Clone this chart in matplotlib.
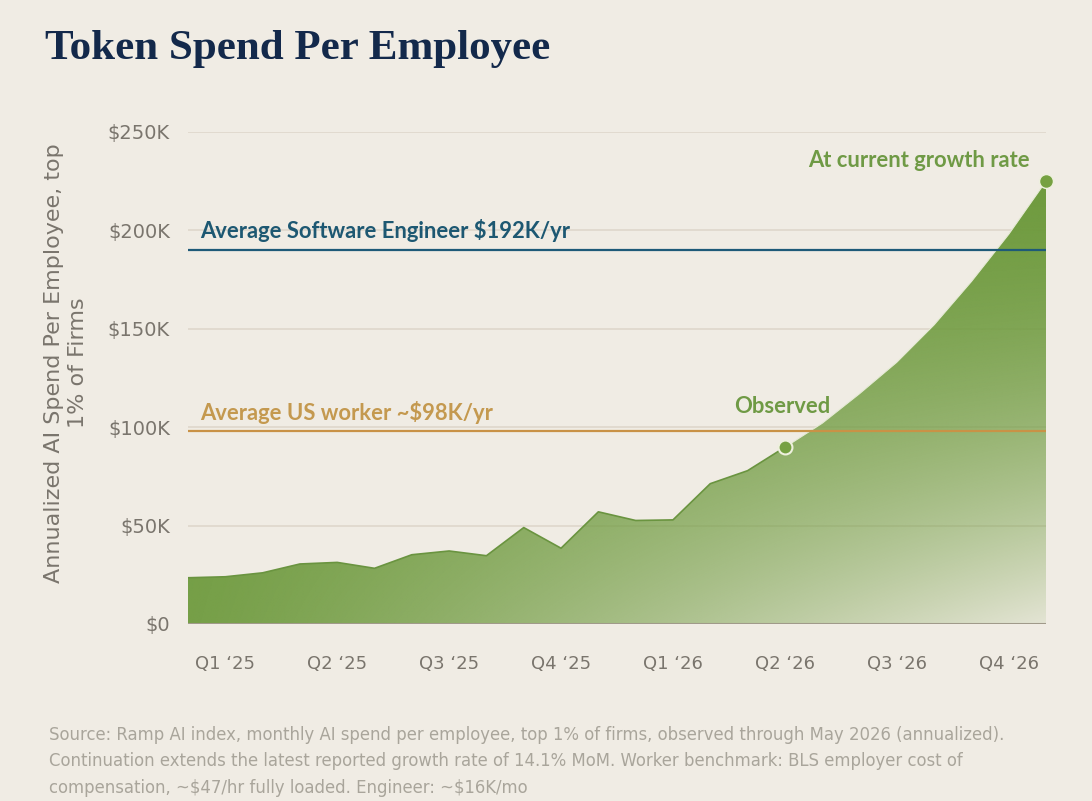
import numpy as np
import matplotlib.pyplot as plt
from matplotlib.patches import Polygon
from matplotlib.colors import to_rgb

# monthly index, 0 = Jan 2025
obs_months = list(range(0, 17))
obs_values = [23.5, 24.0, 26.0, 30.5, 31.3, 28.3, 35.2, 37.1, 34.7, 49.0,
              38.5, 57.0, 52.6, 52.9, 71.3, 77.9, 89.8]          # $K, annualized
proj_months = list(range(16, 24))
proj_values = [89.8, 102.0, 117.0, 133.0, 152.0, 174.0, 198.0, 225.0]

quarter_ticks = [1, 4, 7, 10, 13, 16, 19, 22]
quarter_labels = ["Q1 \u201825", "Q2 \u201825", "Q3 \u201825", "Q4 \u201825",
                  "Q1 \u201826", "Q2 \u201826", "Q3 \u201826", "Q4 \u201826"]
y_ticks = [0, 50, 100, 150, 200, 250]
y_labels = ["$0", "$50K", "$100K", "$150K", "$200K", "$250K"]

engineer_level = 190
worker_level = 98

BG = "#F0ECE4"
GREEN = "#6F9B3F"
NAVY = "#13294B"
TEAL = "#1E5A78"
GOLD = "#C99246"
GRAY = "#7A756D"

fig = plt.figure(figsize=(10.92, 8.01), dpi=100, facecolor=BG)
ax = fig.add_axes([188 / 1092, 1 - 624 / 801, 858 / 1092, 492 / 801])
ax.set_facecolor(BG)
ax.set_xlim(0, 23)
ax.set_ylim(0, 250)

for s in ax.spines.values():
    s.set_visible(False)

# grid
for v in y_ticks[1:]:
    ax.axhline(v, color="#DED7CB", lw=1.2, zorder=1)

# area with gradient
xs = obs_months + proj_months[1:]
ys = obs_values + proj_values[1:]
verts = [(xs[0], 0)] + list(zip(xs, ys)) + [(xs[-1], 0)]
poly = Polygon(verts, closed=True, facecolor="none", edgecolor="none")
ax.add_patch(poly)

nx, ny = 400, 300
xn = np.linspace(0, 1, nx)[None, :]
yd = np.linspace(0, 1, ny)[:, None]
alpha = 1 - 0.05 * yd - 0.85 * xn ** 1.2 * yd ** 1.8
rgba = np.zeros((ny, nx, 4))
rgba[..., :3] = to_rgb(GREEN)
rgba[..., 3] = np.clip(alpha, 0, 1)
im = ax.imshow(rgba, extent=[0, 23, 0, 225], aspect="auto", origin="upper",
               zorder=2, interpolation="bilinear")
im.set_clip_path(poly)

ax.plot(obs_months, obs_values, color="#6A9440", lw=1.2, zorder=3)
ax.plot(proj_months, proj_values, color="#E6EBD6", lw=0.8, zorder=3)

# benchmark lines
ax.axhline(engineer_level, color=TEAL, lw=1.6, zorder=4)
ax.axhline(worker_level, color=GOLD, lw=1.6, zorder=4)
ax.axhline(0, color="#A09A8A", lw=2.2, zorder=5)

ann_font = dict(family=["Lato", "DejaVu Sans"], fontsize=15.8, fontweight="bold")
ax.text(0.32, 200, "Average Software Engineer \\$192K/yr", color="#1D5872",
        va="center", ha="left", zorder=6, **ann_font)
ax.text(0.32, 107.5, "Average US worker ~\\$98K/yr", color="#C4994F",
        va="center", ha="left", zorder=6, **ann_font)
ax.text(15.93, 110.5, "Observed", color="#6F9A45", va="center", ha="center",
        zorder=6, **ann_font)
ax.text(22.57, 235.5, "At current growth rate", color="#6F9A45",
        va="center", ha="right", zorder=6, **ann_font)

# markers
ax.plot([obs_months[-1]], [obs_values[-1]], "o", ms=10, color="#76A142",
        mec="#EEF0DE", mew=1.5, zorder=7, clip_on=False)
ax.plot([proj_months[-1]], [proj_values[-1]], "o", ms=10, color="#76A142",
        mec="#EEF0DE", mew=1.0, zorder=7, clip_on=False)

ax.set_yticks(y_ticks)
ax.set_yticklabels(y_labels, fontsize=14, color=GRAY, family=["DejaVu Sans"])
ax.set_xticks(quarter_ticks)
ax.set_xticklabels(quarter_labels, fontsize=13, color=GRAY, family=["DejaVu Sans"])
ax.tick_params(axis="y", length=0, pad=13)
ax.tick_params(axis="x", length=0, pad=22)

fig.text(66 / 1092, 1 - 363 / 801,
         "Annualized AI Spend Per Employee, top\n1% of Firms",
         rotation=90, ha="center", va="center", multialignment="center",
         fontsize=16, color=GRAY, linespacing=1.3)

fig.text(45 / 1092, 1 - 49 / 801, "Token Spend Per Employee",
         family=["Liberation Serif"], fontweight="bold", fontsize=31,
         color=NAVY, ha="left", va="center")

footer = ("Source: Ramp AI index, monthly AI spend per employee, top 1% of firms, "
          "observed through May 2026 (annualized).\n"
          "Continuation extends the latest reported growth rate of 14.1% MoM. "
          "Worker benchmark: BLS employer cost of\n"
          "compensation, ~\\$47/hr fully loaded. Engineer: ~\\$16K/mo")
fig.text(49 / 1092, 1 - 726 / 801, footer, family=["DejaVu Sans"], fontsize=11.9,
         color="#A9A59B", ha="left", va="top", linespacing=1.6)

fig.savefig("out.png", dpi=100, facecolor=BG)
